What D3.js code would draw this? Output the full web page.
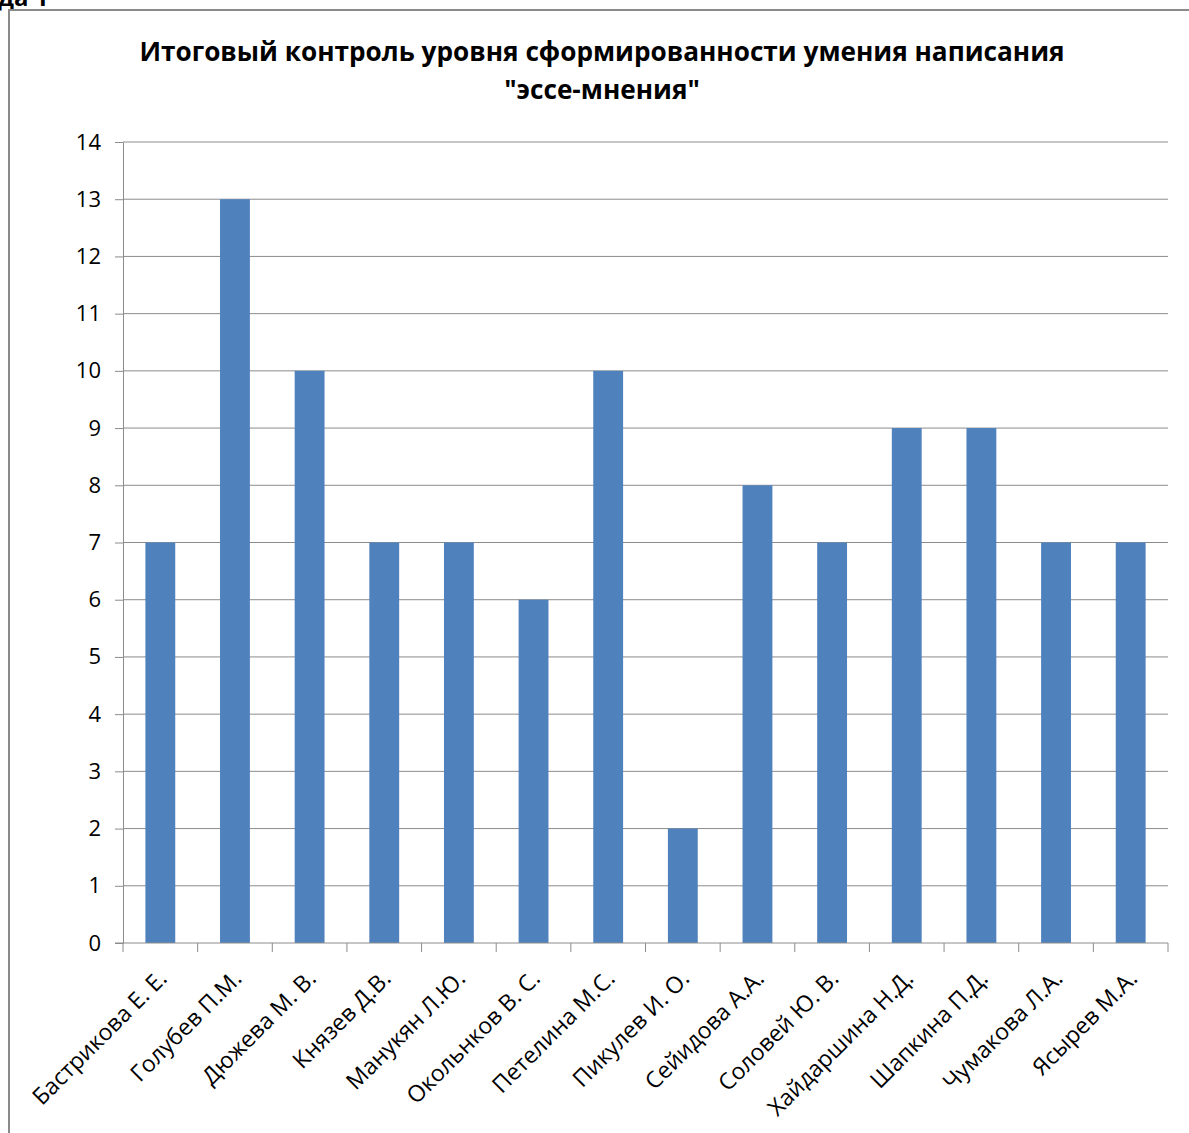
<!DOCTYPE html>
<html>
<head>
<meta charset="utf-8">
<script src="https://cdn.jsdelivr.net/npm/d3@7"></script>
<style>
  body { margin: 0; background: #fff; }
  svg { display: block; font-family: "Open Sans", sans-serif; }
</style>
</head>
<body>
<div id="vis"></div>
<script>
var students = ["Бастрикова Е. Е.", "Голубев П.М.", "Дюжева М. В.", "Князев Д.В.", "Манукян Л.Ю.",
  "Окольнков В. С.", "Петелина М.С.", "Пикулев И. О.", "Сейидова А.А.", "Соловей Ю. В.",
  "Хайдаршина Н.Д.", "Шапкина П.Д.", "Чумакова Л.А.", "Ясырев М.А."];
var scores = [7, 13, 10, 7, 7, 6, 10, 2, 8, 7, 9, 9, 7, 7];
var yTicks = [0, 1, 2, 3, 4, 5, 6, 7, 8, 9, 10, 11, 12, 13, 14];
var titleLines = ["Итоговый контроль уровня сформированности умения написания", "\"эссе-мнения\""];

var w = 1189, h = 1133;
var plotLeft = 123, plotRight = 1168, plotTop = 142, plotBottom = 943;

var svg = d3.select("#vis").append("svg")
  .attr("width", w)
  .attr("height", h);

// cut-off caption above the frame (only its lower part shows)
svg.append("text")
  .attr("x", -2)
  .attr("y", 6)
  .attr("font-size", 24)
  .attr("font-weight", "bold")
  .text("да 1");

// chart frame (only left and top visible)
svg.append("path")
  .attr("d", "M9," + h + "V10H" + w)
  .attr("fill", "none")
  .attr("stroke", "#8a8a8a")
  .attr("stroke-width", 2);

svg.selectAll("text.title")
  .data(titleLines)
  .enter()
  .append("text")
  .attr("class", "title")
  .attr("x", 602)
  .attr("y", function(d, i) { return 61 + i * 38; })
  .attr("text-anchor", "middle")
  .attr("font-size", 26.2)
  .attr("font-weight", "bold")
  .text(function(d) { return d; });

var x = d3.scaleBand()
  .domain(students)
  .range([plotLeft, plotRight])
  .paddingInner(0.6)
  .paddingOuter(0.3);

var bands = d3.scaleBand()
  .domain(students)
  .range([plotLeft, plotRight]);

var y = d3.scaleLinear()
  .domain([0, 14])
  .range([plotBottom, plotTop]);

// gridlines
svg.append("g")
  .selectAll("line")
  .data(yTicks.filter(function(d) { return d > 0; }))
  .enter()
  .append("line")
  .attr("x1", plotLeft)
  .attr("x2", plotRight)
  .attr("y1", function(d) { return y(d); })
  .attr("y2", function(d) { return y(d); })
  .attr("stroke", "#8c8c8c")
  .attr("stroke-width", 1);

// y axis
var yAxis = svg.append("g")
  .attr("transform", "translate(" + plotLeft + ",0)")
  .call(d3.axisLeft(y).tickValues(yTicks).tickSize(8).tickSizeOuter(0).tickPadding(14));
yAxis.select(".domain").attr("stroke", "#8c8c8c");
yAxis.selectAll(".tick line").attr("stroke", "#8c8c8c");
yAxis.selectAll("text")
  .attr("font-size", 22)
  .attr("font-family", "Open Sans, sans-serif")
  .attr("fill", "#000");

// bars
svg.selectAll("rect.bar")
  .data(scores)
  .enter()
  .append("rect")
  .attr("class", "bar")
  .attr("x", function(d, i) { return x(students[i]); })
  .attr("y", function(d) { return y(d); })
  .attr("width", x.bandwidth())
  .attr("height", function(d) { return y(0) - y(d); })
  .attr("fill", "#4f81bd");

// x axis with ticks on band boundaries
var xg = svg.append("g");
xg.append("line")
  .attr("x1", plotLeft - 8)
  .attr("x2", plotRight)
  .attr("y1", plotBottom)
  .attr("y2", plotBottom)
  .attr("stroke", "#8c8c8c");
var bounds = students.map(function(d) { return bands(d); }).concat([plotRight]);
xg.selectAll("line.tk")
  .data(bounds)
  .enter()
  .append("line")
  .attr("class", "tk")
  .attr("x1", function(d) { return d; })
  .attr("x2", function(d) { return d; })
  .attr("y1", plotBottom)
  .attr("y2", plotBottom + 9)
  .attr("stroke", "#8c8c8c");

xg.selectAll("text")
  .data(students)
  .enter()
  .append("text")
  .attr("transform", function(d) {
    var cx = bands(d) + bands.bandwidth() / 2 + 8;
    return "translate(" + cx + "," + (plotBottom + 37) + ") rotate(-45)";
  })
  .attr("text-anchor", "end")
  .attr("font-size", 23)
  .text(function(d) { return d; });
</script>
</body>
</html>
